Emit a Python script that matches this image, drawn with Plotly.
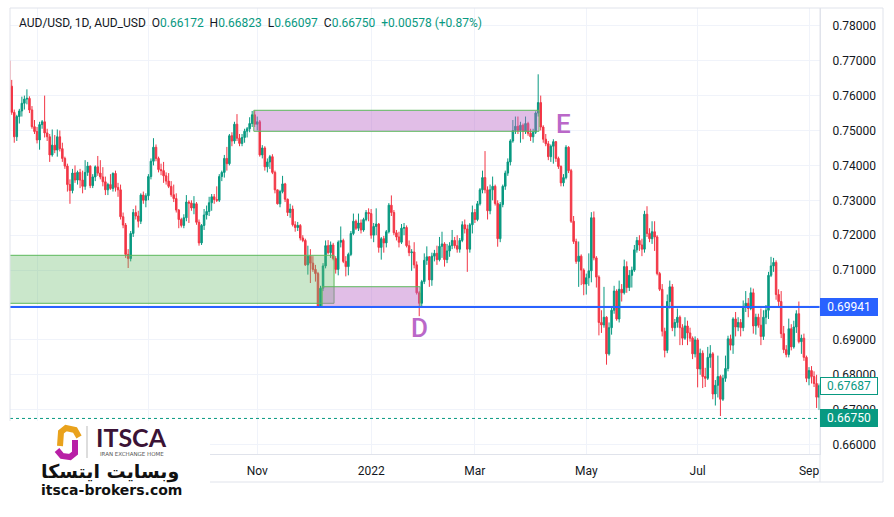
import pandas as pd
import plotly.graph_objects as go

# ---------------- DATA (AUD/USD daily) ----------------
start_date = "2021-06-16"
end_date = "2022-09-07"

opens = [
    0.7700, 0.7627, 0.7552, 0.7482, 0.7540, 0.7556, 0.7578, 0.7590, 0.7592, 0.7559, 0.7511,
    0.7497, 0.7473, 0.7517, 0.7525, 0.7493, 0.7482, 0.7430, 0.7458, 0.7444, 0.7482, 0.7448, 0.7420, 0.7398, 0.7345, 0.7328, 0.7378, 0.7358, 0.7380, 0.7358, 0.7340, 0.7380, 0.7398,
    0.7342, 0.7367, 0.7396, 0.7378, 0.7367, 0.7353, 0.7330, 0.7345, 0.7334, 0.7377, 0.7337, 0.7330, 0.7253, 0.7229, 0.7145, 0.7133, 0.7205, 0.7265, 0.7255, 0.7240, 0.7315, 0.7300,
    0.7313, 0.7368, 0.7412, 0.7452, 0.7420, 0.7388, 0.7385, 0.7370, 0.7355, 0.7340, 0.7316, 0.7305, 0.7272, 0.7245, 0.7228, 0.7250, 0.7295, 0.7292, 0.7278, 0.7290, 0.7237, 0.7178,
    0.7228, 0.7258, 0.7268, 0.7293, 0.7310, 0.7302, 0.7300, 0.7368, 0.7380, 0.7420, 0.7405, 0.7485, 0.7470, 0.7518, 0.7478, 0.7463, 0.7480, 0.7498, 0.7505, 0.7520, 0.7545,
    0.7518, 0.7525, 0.7430, 0.7450, 0.7396, 0.7410, 0.7425, 0.7380, 0.7330, 0.7290, 0.7325, 0.7347, 0.7303, 0.7265, 0.7275, 0.7230, 0.7222, 0.7228, 0.7192, 0.7185, 0.7115, 0.7140,
    0.7120, 0.7102, 0.7090, 0.6995, 0.7048, 0.7112, 0.7170, 0.7150, 0.7172, 0.7133, 0.7102, 0.7180, 0.7185, 0.7125, 0.7110, 0.7145, 0.7205, 0.7240, 0.7220, 0.7235, 0.7215, 0.7245, 0.7265,
    0.7262, 0.7200, 0.7225, 0.7232, 0.7165, 0.7190, 0.7178, 0.7210, 0.7286, 0.7265, 0.7207, 0.7195, 0.7180, 0.7220, 0.7222, 0.7170, 0.7150, 0.7152, 0.7115, 0.7035, 0.7005,
    0.7067, 0.7128, 0.7138, 0.7072, 0.7140, 0.7148, 0.7130, 0.7168, 0.7175, 0.7130, 0.7155, 0.7170, 0.7185, 0.7170, 0.7160, 0.7185, 0.7230, 0.7218, 0.7160, 0.7230,
    0.7265, 0.7245, 0.7290, 0.7330, 0.7365, 0.7330, 0.7270, 0.7330, 0.7340, 0.7291, 0.7190, 0.7288, 0.7340, 0.7378, 0.7410, 0.7470, 0.7500, 0.7512, 0.7500, 0.7515, 0.7498, 0.7520, 0.7492,
    0.7482, 0.7495, 0.7550, 0.7580, 0.7510, 0.7475, 0.7462, 0.7425, 0.7455, 0.7468, 0.7420, 0.7397, 0.7350, 0.7365, 0.7452, 0.7385, 0.7240, 0.7182, 0.7125, 0.7140, 0.7100,
    0.7060, 0.7078, 0.7098, 0.7250, 0.7135, 0.7080, 0.6950, 0.6943, 0.6965, 0.6860, 0.6935, 0.6985, 0.7040, 0.6960, 0.7045, 0.7035, 0.7110, 0.7050, 0.7085, 0.7100, 0.7158, 0.7185,
    0.7172, 0.7160, 0.7260, 0.7205, 0.7190, 0.7210, 0.7195, 0.7090, 0.7045, 0.6925, 0.6870, 0.7010, 0.7052, 0.6935, 0.6950, 0.6965, 0.6935, 0.6905, 0.6940, 0.6920, 0.6905, 0.6860,
    0.6900, 0.6817, 0.6862, 0.6795, 0.6790, 0.6850, 0.6860, 0.6745, 0.6770, 0.6795, 0.6730, 0.6790, 0.6818, 0.6903, 0.6885, 0.6960, 0.6937, 0.6950, 0.6935, 0.6995, 0.7005,
    0.6990, 0.7035, 0.6940, 0.6965, 0.6942, 0.6910, 0.6965, 0.6985, 0.7085, 0.7112, 0.7122, 0.7030, 0.7010, 0.6918, 0.6872, 0.6858, 0.6932, 0.6880, 0.6937, 0.6975, 0.6895, 0.6905, 0.6850,
    0.6790, 0.6812, 0.6795, 0.6775, 0.6736,
]

highs = [
    0.7712, 0.7645, 0.7560, 0.7545, 0.7562, 0.7597, 0.7600, 0.7618, 0.7598, 0.7570, 0.7530,
    0.7510, 0.7525, 0.7530, 0.7600, 0.7505, 0.7490, 0.7503, 0.7487, 0.7503, 0.7500, 0.7465, 0.7425, 0.7405, 0.7360, 0.7390, 0.7400, 0.7385, 0.7390, 0.7385, 0.7415, 0.7410, 0.7400,
    0.7375, 0.7400, 0.7427, 0.7415, 0.7395, 0.7368, 0.7350, 0.7375, 0.7380, 0.7385, 0.7350, 0.7345, 0.7265, 0.7235, 0.7160, 0.7212, 0.7275, 0.7285, 0.7270, 0.7320, 0.7325, 0.7320,
    0.7375, 0.7420, 0.7478, 0.7460, 0.7425, 0.7405, 0.7410, 0.7380, 0.7378, 0.7355, 0.7345, 0.7320, 0.7275, 0.7250, 0.7260, 0.7315, 0.7300, 0.7300, 0.7312, 0.7295, 0.7245, 0.7232,
    0.7275, 0.7285, 0.7310, 0.7318, 0.7318, 0.7340, 0.7375, 0.7385, 0.7430, 0.7453, 0.7490, 0.7495, 0.7525, 0.7547, 0.7490, 0.7490, 0.7505, 0.7510, 0.7538, 0.7556, 0.7556,
    0.7540, 0.7530, 0.7458, 0.7455, 0.7420, 0.7430, 0.7432, 0.7385, 0.7330, 0.7330, 0.7370, 0.7350, 0.7305, 0.7290, 0.7285, 0.7240, 0.7238, 0.7232, 0.7200, 0.7190, 0.7170, 0.7160,
    0.7140, 0.7115, 0.7095, 0.7055, 0.7120, 0.7185, 0.7186, 0.7182, 0.7178, 0.7140, 0.7185, 0.7225, 0.7190, 0.7140, 0.7150, 0.7212, 0.7262, 0.7245, 0.7262, 0.7245, 0.7250, 0.7272, 0.7277,
    0.7275, 0.7235, 0.7277, 0.7235, 0.7195, 0.7198, 0.7215, 0.7292, 0.7314, 0.7272, 0.7215, 0.7210, 0.7232, 0.7235, 0.7228, 0.7185, 0.7160, 0.7180, 0.7125, 0.7040, 0.7072,
    0.7148, 0.7168, 0.7140, 0.7150, 0.7158, 0.7170, 0.7195, 0.7210, 0.7180, 0.7175, 0.7180, 0.7215, 0.7195, 0.7200, 0.7192, 0.7240, 0.7245, 0.7230, 0.7235, 0.7285,
    0.7275, 0.7298, 0.7335, 0.7385, 0.7441, 0.7340, 0.7345, 0.7368, 0.7345, 0.7300, 0.7295, 0.7345, 0.7385, 0.7420, 0.7475, 0.7530, 0.7540, 0.7540, 0.7525, 0.7520, 0.7540, 0.7525, 0.7505,
    0.7505, 0.7555, 0.7661, 0.7600, 0.7515, 0.7490, 0.7470, 0.7460, 0.7475, 0.7470, 0.7425, 0.7400, 0.7375, 0.7458, 0.7455, 0.7390, 0.7255, 0.7190, 0.7182, 0.7145, 0.7105,
    0.7090, 0.7148, 0.7266, 0.7268, 0.7140, 0.7085, 0.6985, 0.7052, 0.6968, 0.6950, 0.6995, 0.7055, 0.7045, 0.7070, 0.7060, 0.7130, 0.7125, 0.7100, 0.7110, 0.7172, 0.7195, 0.7200,
    0.7190, 0.7270, 0.7283, 0.7220, 0.7240, 0.7240, 0.7200, 0.7095, 0.7060, 0.6935, 0.7030, 0.7070, 0.7060, 0.6960, 0.6990, 0.6970, 0.6945, 0.6965, 0.6955, 0.6935, 0.6910, 0.6910,
    0.6905, 0.6875, 0.6870, 0.6820, 0.6880, 0.6885, 0.6865, 0.6785, 0.6855, 0.6800, 0.6800, 0.6855, 0.6912, 0.6915, 0.6965, 0.6980, 0.6965, 0.6960, 0.7013, 0.7040, 0.7020,
    0.7050, 0.7047, 0.6975, 0.6975, 0.6990, 0.6985, 0.7000, 0.7095, 0.7138, 0.7135, 0.7128, 0.7045, 0.7040, 0.6940, 0.6885, 0.6961, 0.6945, 0.6955, 0.6985, 0.7010, 0.6915, 0.6918, 0.6855,
    0.6822, 0.6825, 0.6810, 0.6800, 0.6775,
]

lows = [
    0.7620, 0.7545, 0.7465, 0.7470, 0.7520, 0.7540, 0.7560, 0.7575, 0.7550, 0.7505, 0.7490,
    0.7463, 0.7445, 0.7505, 0.7480, 0.7470, 0.7410, 0.7425, 0.7435, 0.7425, 0.7440, 0.7410, 0.7390, 0.7325, 0.7290, 0.7320, 0.7350, 0.7345, 0.7335, 0.7320, 0.7330, 0.7370, 0.7335,
    0.7335, 0.7355, 0.7370, 0.7360, 0.7340, 0.7315, 0.7315, 0.7330, 0.7325, 0.7325, 0.7310, 0.7245, 0.7220, 0.7135, 0.7106, 0.7125, 0.7195, 0.7245, 0.7222, 0.7232, 0.7290, 0.7280,
    0.7300, 0.7360, 0.7400, 0.7412, 0.7380, 0.7372, 0.7350, 0.7345, 0.7335, 0.7310, 0.7295, 0.7265, 0.7220, 0.7222, 0.7220, 0.7240, 0.7235, 0.7270, 0.7260, 0.7230, 0.7170, 0.7172,
    0.7215, 0.7245, 0.7255, 0.7270, 0.7290, 0.7295, 0.7295, 0.7355, 0.7365, 0.7385, 0.7400, 0.7455, 0.7462, 0.7470, 0.7455, 0.7455, 0.7465, 0.7480, 0.7495, 0.7510, 0.7510,
    0.7500, 0.7425, 0.7420, 0.7385, 0.7380, 0.7390, 0.7375, 0.7320, 0.7288, 0.7280, 0.7320, 0.7295, 0.7255, 0.7250, 0.7225, 0.7210, 0.7212, 0.7185, 0.7180, 0.7112, 0.7087, 0.7063,
    0.7095, 0.7067, 0.6992, 0.6993, 0.7040, 0.7105, 0.7145, 0.7135, 0.7128, 0.7090, 0.7085, 0.7165, 0.7120, 0.7082, 0.7085, 0.7140, 0.7200, 0.7215, 0.7212, 0.7205, 0.7210, 0.7240, 0.7240,
    0.7190, 0.7180, 0.7200, 0.7150, 0.7130, 0.7150, 0.7165, 0.7205, 0.7255, 0.7200, 0.7185, 0.7165, 0.7175, 0.7200, 0.7165, 0.7140, 0.7098, 0.7105, 0.7030, 0.6968, 0.6992,
    0.7060, 0.7115, 0.7052, 0.7055, 0.7125, 0.7115, 0.7125, 0.7135, 0.7110, 0.7120, 0.7138, 0.7160, 0.7162, 0.7150, 0.7150, 0.7180, 0.7205, 0.7095, 0.7150, 0.7205,
    0.7235, 0.7240, 0.7285, 0.7320, 0.7320, 0.7245, 0.7260, 0.7300, 0.7285, 0.7167, 0.7180, 0.7280, 0.7330, 0.7370, 0.7400, 0.7465, 0.7490, 0.7490, 0.7465, 0.7475, 0.7490, 0.7485, 0.7470,
    0.7465, 0.7490, 0.7540, 0.7500, 0.7465, 0.7455, 0.7415, 0.7410, 0.7405, 0.7410, 0.7390, 0.7340, 0.7340, 0.7360, 0.7378, 0.7235, 0.7175, 0.7118, 0.7052, 0.7057, 0.7028,
    0.7030, 0.7055, 0.7065, 0.7128, 0.7050, 0.6913, 0.6920, 0.6935, 0.6829, 0.6855, 0.6915, 0.6975, 0.6955, 0.6950, 0.7010, 0.7030, 0.7035, 0.7040, 0.7050, 0.7095, 0.7150, 0.7155,
    0.7140, 0.7150, 0.7195, 0.7180, 0.7175, 0.7155, 0.7085, 0.7040, 0.6910, 0.6850, 0.6862, 0.6990, 0.6925, 0.6910, 0.6935, 0.6885, 0.6885, 0.6900, 0.6885, 0.6895, 0.6845, 0.6850,
    0.6764, 0.6800, 0.6762, 0.6765, 0.6785, 0.6820, 0.6730, 0.6712, 0.6735, 0.6682, 0.6725, 0.6780, 0.6810, 0.6870, 0.6860, 0.6910, 0.6925, 0.6910, 0.6925, 0.6980, 0.6965,
    0.6985, 0.6918, 0.6915, 0.6935, 0.6885, 0.6900, 0.6945, 0.6960, 0.7080, 0.7095, 0.7015, 0.6995, 0.6905, 0.6862, 0.6850, 0.6850, 0.6870, 0.6875, 0.6920, 0.6890, 0.6860, 0.6840, 0.6779,
    0.6770, 0.6775, 0.6765, 0.6705, 0.6699,
]

closes = [
    0.7627, 0.7552, 0.7482, 0.7540, 0.7556, 0.7578, 0.7590, 0.7592, 0.7559, 0.7511, 0.7497,
    0.7473, 0.7517, 0.7525, 0.7493, 0.7482, 0.7430, 0.7458, 0.7444, 0.7482, 0.7448, 0.7420, 0.7398, 0.7345, 0.7328, 0.7378, 0.7358, 0.7380, 0.7358, 0.7340, 0.7380, 0.7398, 0.7342,
    0.7367, 0.7396, 0.7378, 0.7367, 0.7353, 0.7330, 0.7345, 0.7334, 0.7377, 0.7337, 0.7330, 0.7253, 0.7229, 0.7145, 0.7133, 0.7205, 0.7265, 0.7255, 0.7240, 0.7315, 0.7300, 0.7313,
    0.7368, 0.7412, 0.7452, 0.7420, 0.7388, 0.7385, 0.7370, 0.7355, 0.7340, 0.7316, 0.7305, 0.7272, 0.7245, 0.7228, 0.7250, 0.7295, 0.7292, 0.7278, 0.7290, 0.7237, 0.7178, 0.7228,
    0.7258, 0.7268, 0.7293, 0.7310, 0.7302, 0.7300, 0.7368, 0.7380, 0.7420, 0.7405, 0.7485, 0.7470, 0.7518, 0.7478, 0.7463, 0.7480, 0.7498, 0.7505, 0.7520, 0.7545, 0.7518,
    0.7525, 0.7430, 0.7450, 0.7396, 0.7410, 0.7425, 0.7380, 0.7330, 0.7290, 0.7325, 0.7347, 0.7303, 0.7265, 0.7275, 0.7230, 0.7222, 0.7228, 0.7192, 0.7185, 0.7115, 0.7140, 0.7120,
    0.7102, 0.7090, 0.6995, 0.7048, 0.7112, 0.7170, 0.7150, 0.7172, 0.7133, 0.7102, 0.7180, 0.7185, 0.7125, 0.7110, 0.7145, 0.7205, 0.7240, 0.7220, 0.7235, 0.7215, 0.7245, 0.7265, 0.7262,
    0.7200, 0.7225, 0.7232, 0.7165, 0.7190, 0.7178, 0.7210, 0.7286, 0.7265, 0.7207, 0.7195, 0.7180, 0.7220, 0.7222, 0.7170, 0.7150, 0.7152, 0.7115, 0.7035, 0.7005, 0.7067,
    0.7128, 0.7138, 0.7072, 0.7140, 0.7148, 0.7130, 0.7168, 0.7175, 0.7130, 0.7155, 0.7170, 0.7185, 0.7170, 0.7160, 0.7185, 0.7230, 0.7218, 0.7160, 0.7230, 0.7265,
    0.7245, 0.7290, 0.7330, 0.7365, 0.7330, 0.7270, 0.7330, 0.7340, 0.7291, 0.7190, 0.7288, 0.7340, 0.7378, 0.7410, 0.7470, 0.7500, 0.7512, 0.7500, 0.7515, 0.7498, 0.7520, 0.7492, 0.7482,
    0.7495, 0.7550, 0.7580, 0.7510, 0.7475, 0.7462, 0.7425, 0.7455, 0.7468, 0.7420, 0.7397, 0.7350, 0.7365, 0.7452, 0.7385, 0.7240, 0.7182, 0.7125, 0.7140, 0.7100, 0.7060,
    0.7078, 0.7098, 0.7250, 0.7135, 0.7080, 0.6950, 0.6943, 0.6965, 0.6860, 0.6935, 0.6985, 0.7040, 0.6960, 0.7045, 0.7035, 0.7110, 0.7050, 0.7085, 0.7100, 0.7158, 0.7185, 0.7172,
    0.7160, 0.7260, 0.7205, 0.7190, 0.7210, 0.7195, 0.7090, 0.7045, 0.6925, 0.6870, 0.7010, 0.7052, 0.6935, 0.6950, 0.6965, 0.6935, 0.6905, 0.6940, 0.6920, 0.6905, 0.6860, 0.6900,
    0.6817, 0.6862, 0.6795, 0.6790, 0.6850, 0.6860, 0.6745, 0.6770, 0.6795, 0.6730, 0.6790, 0.6818, 0.6903, 0.6885, 0.6960, 0.6937, 0.6950, 0.6935, 0.6995, 0.7005, 0.6990,
    0.7035, 0.6940, 0.6965, 0.6942, 0.6910, 0.6965, 0.6985, 0.7085, 0.7112, 0.7122, 0.7030, 0.7010, 0.6918, 0.6872, 0.6858, 0.6932, 0.6880, 0.6937, 0.6975, 0.6895, 0.6905, 0.6850, 0.6790,
    0.6812, 0.6795, 0.6775, 0.6736, 0.6769,
]

tick_dates = ["2021-07-01", "2021-09-01", "2021-11-01", "2022-01-03",
              "2022-03-01", "2022-05-02", "2022-07-01", "2022-09-01"]
# the first two month labels sit under the logo box in the chart, so they are not shown
tick_labels = ["", "", "Nov", "2022", "Mar", "May", "Jul", "Sep"]

price_ticks = [0.66, 0.67, 0.68, 0.69, 0.70, 0.71, 0.72, 0.73, 0.74, 0.75, 0.76, 0.77, 0.78]
# the 0.70000 label is hidden behind the 0.69941 price tag in the chart
price_tick_labels = ["0.66000", "0.67000", "0.68000", "0.69000", "", "0.71000", "0.72000",
                     "0.73000", "0.74000", "0.75000", "0.76000", "0.77000", "0.78000"]

# zones (price levels) and date spans
demand_zone = {"start": "2021-06-01", "end": "2021-12-13", "low": 0.70049, "high": 0.71424}
low_zone = {"start": "2021-12-07", "end": "2022-01-28", "low": 0.69930, "high": 0.70524}
high_zone = {"start": "2021-10-29", "end": "2022-04-05", "low": 0.74977, "high": 0.75579}
support_level = 0.69941
last_price = 0.66750
marker_price = 0.67687
labels_text = ["D", "E"]
labels_date = ["2022-01-28", "2022-04-19"]
labels_price = [0.69341, 0.75186]

header_name = "AUD/USD, 1D, AUD_USD"
header_ohlc = [("O", "0.66172"), ("H", "0.66823"), ("L", "0.66097"), ("C", "0.66750")]
header_change = "+0.00578 (+0.87%)"

# ---------------- FIGURE ----------------
dates = pd.bdate_range(start_date, end_date)
n = len(closes)
assert len(opens) == n and len(highs) == n and len(lows) == n and len(dates) == n, (len(opens), len(highs), len(lows), n, len(dates))
xs = list(range(n))


def idx(d):
    ts = pd.Timestamp(d)
    if ts < dates[0]:
        return -10
    return int(dates.searchsorted(ts))


GREEN = "#089981"
RED = "#f23645"
BLUE = "#2962ff"
PURPLE_TXT = "#ba68c8"
GRID = "#f0f3fa"
BORDER = "#e0e3eb"
TXT = "#131722"

W, H = 894, 517
L_PX, R_PX, T_PX, B_PX = 10, 820, 8, 454


def PX(px):
    return (px - L_PX) / (R_PX - L_PX)


def PY(py):
    return (B_PX - py) / (B_PX - T_PX)


fig = go.Figure()
fig.add_trace(go.Candlestick(
    x=xs, open=opens, high=highs, low=lows, close=closes,
    increasing=dict(line=dict(color=GREEN, width=1), fillcolor=GREEN),
    decreasing=dict(line=dict(color=RED, width=1), fillcolor=RED),
    whiskerwidth=0, hoverinfo="skip", showlegend=False,
))

shapes = []
zone_fill_green = "rgba(102,187,106,0.35)"
zone_fill_purple = "rgba(186,104,200,0.43)"
zone_line = "#5cb85c"
for z, fill in ((demand_zone, zone_fill_green), (low_zone, zone_fill_purple), (high_zone, zone_fill_purple)):
    x0 = idx(z["start"]) - 0.35
    x1 = idx(z["end"]) + 0.35
    shapes.append(dict(type="rect", xref="x", yref="y", x0=x0, x1=x1, y0=z["low"], y1=z["high"],
                       fillcolor=fill, line=dict(color=zone_line, width=1), layer="above"))

shapes.append(dict(type="line", xref="paper", yref="y", x0=0, x1=1, y0=support_level, y1=support_level,
                   line=dict(color=BLUE, width=2), layer="above"))
shapes.append(dict(type="line", xref="paper", yref="y", x0=0, x1=1, y0=last_price, y1=last_price,
                   line=dict(color=GREEN, width=1, dash="dot"), layer="above"))
# chart frame
shapes.append(dict(type="rect", xref="paper", yref="paper", x0=0, x1=PX(883), y0=PY(482), y1=1,
                   line=dict(color=BORDER, width=1), fillcolor="rgba(0,0,0,0)", layer="above"))
shapes.append(dict(type="line", xref="paper", yref="paper", x0=1, x1=1, y0=PY(482), y1=1,
                   line=dict(color=BORDER, width=1), layer="above"))
# logo box
shapes.append(dict(type="rect", xref="paper", yref="paper", x0=PX(0), x1=PX(210), y0=PY(498), y1=PY(421),
                   fillcolor="white", line=dict(width=0), layer="above"))


def path(points):
    return "M " + " L ".join(f"{PX(a):.5f},{PY(b):.5f}" for a, b in points)


shapes.append(dict(type="path", xref="paper", yref="paper", path=path([(79, 437), (75, 430), (66, 428), (61, 432), (60, 446)]),
                   line=dict(color="#e9a21c", width=6), layer="above"))
shapes.append(dict(type="path", xref="paper", yref="paper", path=path([(75, 440), (75, 453), (70, 457), (62, 456), (57, 450)]),
                   line=dict(color="#b81fa6", width=6), layer="above"))
shapes.append(dict(type="line", xref="paper", yref="paper", x0=PX(87), x1=PX(87), y0=PY(458), y1=PY(426),
                   line=dict(color="#bbbbbb", width=1), layer="above"))

annotations = []
for t, d, p in zip(labels_text, labels_date, labels_price):
    annotations.append(dict(x=idx(d), y=p, xref="x", yref="y", text=t, showarrow=False,
                            xanchor="center", yanchor="middle",
                            font=dict(family="Roboto", size=26, color=PURPLE_TXT, weight=500)))

hdr = header_name + "&nbsp;&nbsp;" + "&nbsp;&nbsp;".join(
    f"{k}<span style='color:{GREEN}'>{v}</span>" for k, v in header_ohlc
) + f"&nbsp;&nbsp;<span style='color:{GREEN}'>{header_change}</span>"
annotations.append(dict(x=PX(17), y=PY(23), xref="paper", yref="paper", xanchor="left", yanchor="middle",
                        text=hdr, showarrow=False, font=dict(family="Roboto", size=12, color=TXT)))

tags = [(support_level, BLUE, BLUE, "white"), (marker_price, "white", GREEN, GREEN), (last_price, GREEN, GREEN, "white")]
for p, bg, bc, fc in tags:
    annotations.append(dict(x=1, y=p, xref="paper", yref="y", xanchor="left", yanchor="middle",
                            text=f"{p:.5f}", showarrow=False, bgcolor=bg, bordercolor=bc, borderwidth=1,
                            borderpad=1, width=54, height=14, align="center",
                            font=dict(family="Roboto", size=12, color=fc)))

# logo text
logo_items = [
    ("<b>ITSCA</b>", 131, 437, "Lato", 25, "#3b1336"),
    ("IRAN EXCHANGE HOME", 132, 453.5, "DejaVu Sans", 5.5, "#555555"),
    ("<b>وبسایت ایتسکا</b>", 110, 471, "DejaVu Sans", 19, "#111111"),
    ("<b>itsca-brokers.com</b>", 111, 490, "DejaVu Sans", 14, "#111111"),
]
for t, px, py, fam, sz, col in logo_items:
    annotations.append(dict(x=PX(px), y=PY(py), xref="paper", yref="paper", text=t, showarrow=False,
                            xanchor="center", yanchor="middle",
                            font=dict(family=fam, size=sz, color=col)))

fig.update_layout(
    width=W, height=H,
    margin=dict(l=L_PX, r=W - R_PX, t=T_PX, b=H - B_PX),
    paper_bgcolor="white", plot_bgcolor="white",
    showlegend=False,
    shapes=shapes, annotations=annotations,
    xaxis=dict(
        range=[(L_PX - 9.2) / 2.531, (R_PX - 9.2) / 2.531],
        rangeslider=dict(visible=False),
        tickvals=[idx(d) for d in tick_dates], ticktext=tick_labels,
        showgrid=True, gridcolor=GRID, gridwidth=1, zeroline=False,
        showline=True, linecolor=BORDER, linewidth=1,
        ticks="", ticklabelstandoff=6,
        tickfont=dict(family="Roboto", size=12, color=TXT),
        fixedrange=True,
    ),
    yaxis=dict(
        side="right",
        range=[0.65731, 0.78510],
        tickvals=price_ticks, ticktext=price_tick_labels,
        showgrid=True, gridcolor=GRID, gridwidth=1, zeroline=False,
        showline=True, linecolor=BORDER, linewidth=1,
        ticks="", ticklabelstandoff=9,
        tickfont=dict(family="Roboto", size=12, color=TXT),
        fixedrange=True,
    ),
    boxgap=0.15,
)

fig.write_html("out.html")
